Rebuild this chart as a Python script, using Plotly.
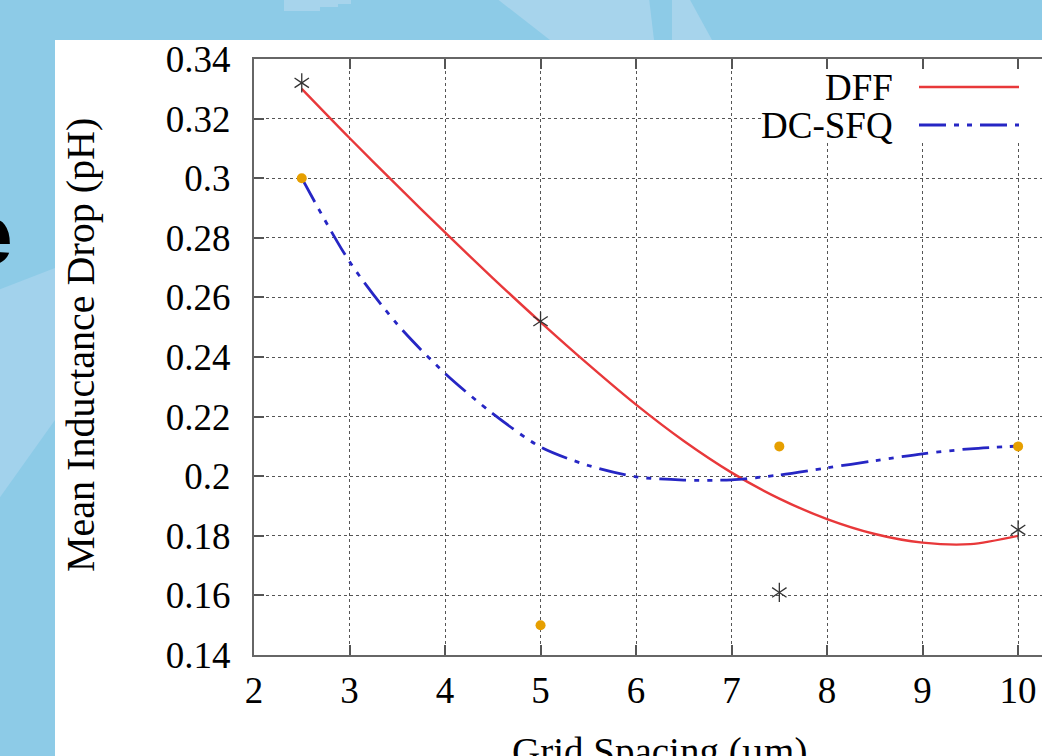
import plotly.graph_objects as go

# ---------------- data ----------------
grid_spacing = [2.5, 5, 7.5, 10]
dff_values = [0.332, 0.252, 0.161, 0.182]
dcsfq_values = [0.300, 0.150, 0.210, 0.210]

fit_x = [2.5, 3, 3.5, 4, 4.5, 5, 5.5, 6, 6.5, 7, 7.5, 8, 8.5, 9, 9.5, 10]
dff_fit = [0.330, 0.3135, 0.2975, 0.2818, 0.2665, 0.2517, 0.2375, 0.2240,
           0.2118, 0.2012, 0.1925, 0.1856, 0.1806, 0.1777, 0.1772, 0.1800]
dcsfq_fit = [0.300, 0.272, 0.251, 0.2345, 0.221, 0.2098, 0.2036, 0.1998,
             0.1987, 0.1988, 0.2004, 0.2028, 0.2052, 0.2075, 0.2092, 0.2101]

x_ticks = [2, 3, 4, 5, 6, 7, 8, 9, 10]
y_ticks = [0.14, 0.16, 0.18, 0.20, 0.22, 0.24, 0.26, 0.28, 0.30, 0.32, 0.34]
y_tick_labels = ["0.14", "0.16", "0.18", "0.2", "0.22", "0.24", "0.26",
                 "0.28", "0.3", "0.32", "0.34"]

# ---------------- geometry helpers (pixel -> paper) ----------------
W, H = 1042, 756
L, T, B = 254, 59, 101
PW, PH = W - L, H - T - B


def fx(px):
    return (px - L) / PW


def fy(py):
    return (H - B - py) / PH


def path(points):
    return "M " + " L ".join(f"{fx(a):.5f},{fy(b):.5f}" for a, b in points) + " Z"


SERIF = "Liberation Serif"
RED = "#E8383A"
BLUE = "#2626C4"
ORANGE = "#E69F00"
GRID = "#555555"
DASHDOT = "27px,8px,5px,8px,5px,8px"

fig = go.Figure()

fig.add_trace(go.Scatter(x=fit_x, y=dff_fit, mode="lines", name="DFF",
                         line=dict(color=RED, width=2.4, shape="spline", smoothing=0.8),
                         showlegend=False))
fig.add_trace(go.Scatter(x=fit_x, y=dcsfq_fit, mode="lines", name="DC-SFQ",
                         line=dict(color=BLUE, width=2.8, shape="spline", smoothing=0.8,
                                   dash=DASHDOT),
                         showlegend=False))
fig.add_trace(go.Scatter(x=grid_spacing, y=dcsfq_values, mode="markers",
                         marker=dict(symbol="circle", size=10, color=ORANGE),
                         showlegend=False))
for sym in ["y-up-open", "y-down-open"]:
    fig.add_trace(go.Scatter(x=grid_spacing, y=dff_values, mode="markers",
                             marker=dict(symbol=sym, size=12, color="#333333",
                                         line=dict(color="#333333", width=1.3)),
                             showlegend=False))

shapes = [
    # white slide panel
    dict(type="rect", xref="paper", yref="paper", x0=fx(55), x1=fx(1060),
         y0=fy(800), y1=fy(40), fillcolor="white", line=dict(width=0), layer="below"),
    # lighter background patches
    dict(type="path", xref="paper", yref="paper",
         path=path([(284, -2), (284, 11), (320, 11), (320, 7), (338, 7), (338, 4),
                    (351, 4), (351, -2)]),
         fillcolor="#A7D4EC", line=dict(width=0), layer="below"),
    dict(type="path", xref="paper", yref="paper",
         path=path([(496, -2), (550, 40), (654, 40), (649, -2)]),
         fillcolor="#A7D4EC", line=dict(width=0), layer="below"),
    dict(type="path", xref="paper", yref="paper",
         path=path([(672, -2), (672, 40), (712, 40), (689, -2)]),
         fillcolor="#A7D4EC", line=dict(width=0), layer="below"),
    dict(type="path", xref="paper", yref="paper",
         path=path([(-2, 290), (55, 268), (55, 420), (-2, 500)]),
         fillcolor="#A2D2EC", line=dict(width=0), layer="below"),
    # opaque key box
    dict(type="rect", xref="paper", yref="paper", x0=fx(762), x1=fx(1060),
         y0=fy(143), y1=fy(71), fillcolor="white", line=dict(width=0), layer="above"),
    # key samples
    dict(type="line", xref="paper", yref="paper", x0=fx(919), x1=fx(1019),
         y0=fy(87), y1=fy(87), line=dict(color=RED, width=2.4), layer="above"),
    dict(type="line", xref="paper", yref="paper", x0=fx(919), x1=fx(1019),
         y0=fy(125), y1=fy(125), line=dict(color=BLUE, width=2.8, dash=DASHDOT),
         layer="above"),
]

annotations = [
    dict(text="DFF", xref="paper", yref="paper", x=fx(895), y=fy(87),
         xanchor="right", yanchor="middle", showarrow=False,
         font=dict(family=SERIF, size=37, color="black")),
    dict(text="DC-SFQ", xref="paper", yref="paper", x=fx(895), y=fy(125),
         xanchor="right", yanchor="middle", showarrow=False,
         font=dict(family=SERIF, size=37, color="black")),
    dict(text="Mean Inductance Drop (pH)", xref="paper", yref="paper",
         x=fx(80), y=fy(345), textangle=-90, xanchor="center", yanchor="middle",
         showarrow=False, font=dict(family=SERIF, size=40, color="black")),
    dict(text="Grid Spacing (µm)", xref="x", yref="paper", x=6.25, y=fy(728),
         xanchor="center", yanchor="top", showarrow=False,
         font=dict(family=SERIF, size=39, color="black")),
    dict(text="<b>e</b>", xref="paper", yref="paper", x=fx(15), y=fy(234),
         xanchor="right", yanchor="middle", showarrow=False,
         font=dict(family="Liberation Sans", size=86, color="black")),
]

fig.update_layout(
    width=W, height=H, autosize=False,
    margin=dict(l=L, r=0, t=T, b=B, pad=0),
    paper_bgcolor="#8DCBE7",
    plot_bgcolor="white",
    shapes=shapes,
    annotations=annotations,
    showlegend=False,
    font=dict(family=SERIF, size=37, color="black"),
)

fig.update_xaxes(
    range=[2, 10.25], tickmode="array", tickvals=x_ticks,
    ticktext=[str(v) for v in x_ticks],
    ticks="inside", ticklen=10, tickwidth=1.5, tickcolor=GRID,
    showline=True, linecolor="#666666", linewidth=2, mirror="ticks",
    showgrid=True, gridcolor=GRID, gridwidth=1, griddash="dot",
    zeroline=False, ticklabelstandoff=2,
    tickfont=dict(family=SERIF, size=37, color="black"),
)
fig.update_yaxes(
    range=[0.14, 0.34], tickmode="array", tickvals=y_ticks, ticktext=y_tick_labels,
    ticks="inside", ticklen=10, tickwidth=1.5, tickcolor=GRID,
    showline=True, linecolor="#666666", linewidth=2, mirror=False,
    showgrid=True, gridcolor=GRID, gridwidth=1, griddash="dot",
    zeroline=False, ticklabelstandoff=14,
    tickfont=dict(family=SERIF, size=37, color="black"),
)

fig.write_html(
    "out.html",
    config={"displayModeBar": False},
    post_script="document.body.style.margin='0';document.body.style.padding='0';"
                "document.body.style.overflow='hidden';"
                "document.documentElement.style.overflow='hidden';",
)
